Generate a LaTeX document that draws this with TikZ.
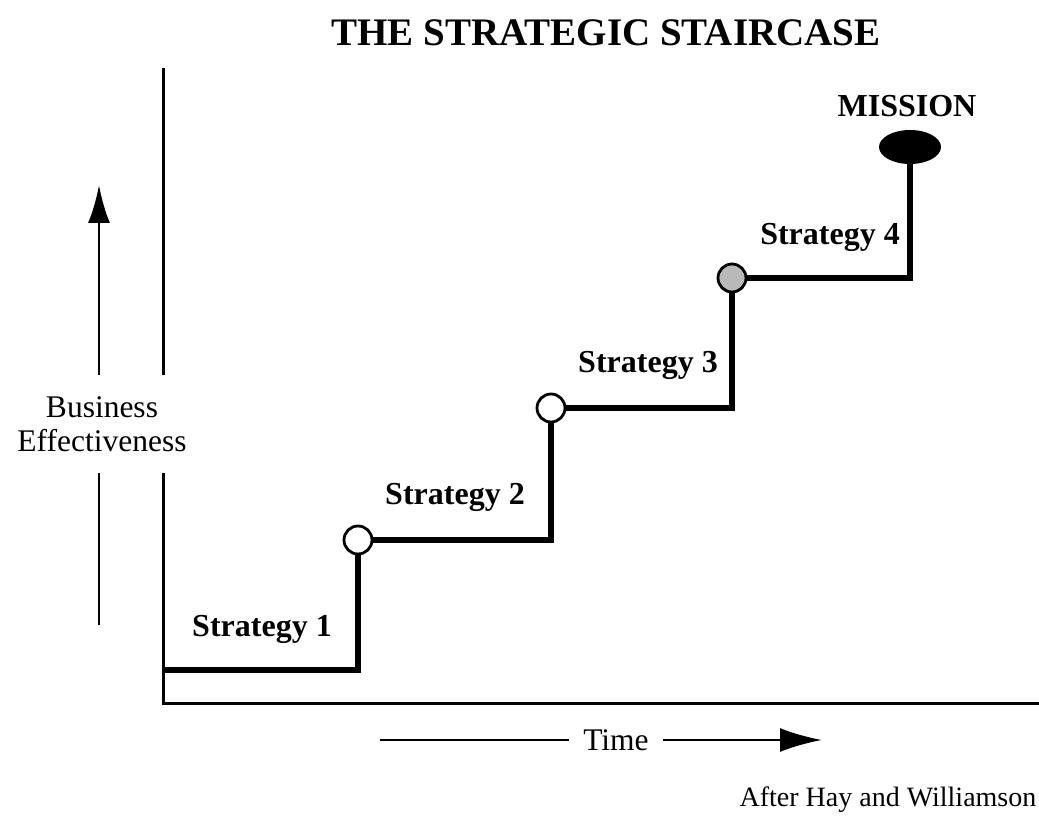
\documentclass[tikz,border=0pt]{standalone}
\usepackage{fontspec}
\setmainfont{Liberation Serif}
\usetikzlibrary{arrows.meta,shapes.geometric}
\begin{document}
\begin{tikzpicture}[x=1pt,y=-1pt,
  axis/.style={line width=3pt},
  stair/.style={line width=5.5pt},
  guide/.style={line width=2.8pt},
  stepdot/.style={circle,draw,line width=2.8pt,minimum size=28pt,inner sep=0pt,fill=white},
  steplabel/.style={font=\bfseries\fontsize{32}{34}\selectfont,inner sep=0pt},
  plain/.style={font=\fontsize{31.5}{34}\selectfont,inner sep=0pt,align=center}]
\useasboundingbox (0,0) rectangle (1039,818);

% title
\node[font=\bfseries\fontsize{39}{41}\selectfont,inner sep=0pt] (title) at (606,33) {THE STRATEGIC STAIRCASE};

% axes
\coordinate (ytop) at (163,68);
\coordinate (ygapA) at (163,375);
\coordinate (ygapB) at (163,473);
\coordinate (origin) at (163,703);
\coordinate (xend) at (1039,703);
\draw[axis] (ytop) -- (ygapA);
\draw[axis] (ygapB) -- (origin) -- (xend);

% vertical axis label and arrow
\node[plain] (ylab) at (102,424) {Business\\Effectiveness};
\coordinate (yarrA) at (99,375);
\coordinate (yarrTip) at (99,185);
\coordinate (yarrB) at (99,473);
\coordinate (yarrC) at (99,625);
\draw[guide,-{Latex[length=38pt,width=22pt]}] (yarrA) -- (yarrTip);
\draw[guide] (yarrB) -- (yarrC);

% horizontal axis label and arrow
\node[plain] (time) at (616,740) {Time};
\coordinate (tA) at (380,740);
\coordinate (tB) at (822,740);
\draw[guide] (tA) -- ([xshift=-14pt]time.west);
\draw[guide,-{Latex[length=42pt,width=24pt]}] ([xshift=14pt]time.east) -- (tB);

% staircase markers
\node[stepdot] (s1) at (358,540) {};
\node[stepdot] (s2) at (551,408) {};
\node[stepdot,fill=gray!55] (s3) at (732,278) {};
\node[ellipse,fill=black,minimum width=62pt,minimum height=34pt,inner sep=0pt] (mission) at (910,147) {};

% staircase
\coordinate (start) at (163,670);
\draw[stair] (start) -- (358,670) -- (s1.south);
\draw[stair] (s1.east) -- (551,540) -- (s2.south);
\draw[stair] (s2.east) -- (732,408) -- (s3.south);
\draw[stair] (s3.east) -- (910,278) -- (mission.south);

% labels
\node[steplabel] (l1) at (262,629) {Strategy 1};
\node[steplabel] (l2) at (455,497) {Strategy 2};
\node[steplabel] (l3) at (648,365) {Strategy 3};
\node[steplabel] (l4) at (830,237) {Strategy 4};
\node[steplabel] (lm) at (907,106) {MISSION};

\node[font=\fontsize{28}{30}\selectfont,inner sep=0pt] (credit) at (888,800) {After Hay and Williamson};
\end{tikzpicture}
\end{document}
